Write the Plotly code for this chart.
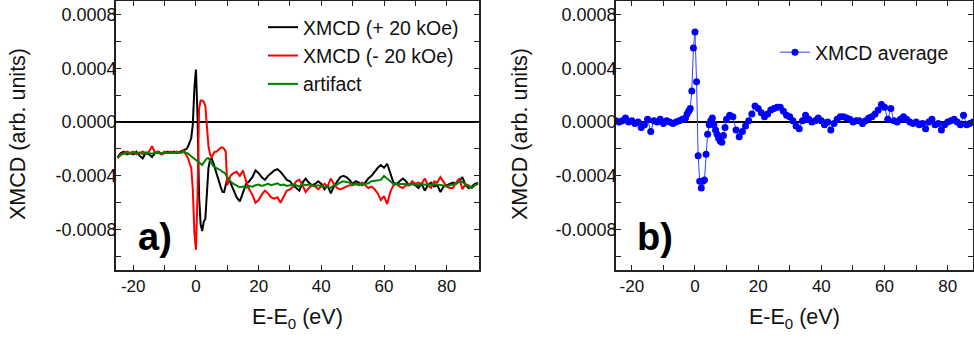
import plotly.graph_objects as go

# Energy grid relative to the edge (eV): coarse pre-edge, fine across the edge, 1 eV above it
energy = [
    -25, -24, -23, -22, -21, -20, -19, -18, -17, -16, -15, -14, -13, -12, -11,
    -10, -9, -8, -7, -6, -5, -4,
    -3.5, -3, -2.5, -2, -1.5, -1, -0.5, 0, 0.5, 1, 1.5, 2, 2.5, 3, 3.5, 4, 4.5,
    5, 5.5, 6, 6.5, 7, 7.5, 8, 8.5, 9, 9.5, 10,
    11, 12, 13, 14, 15, 16, 17, 18, 19, 20, 21, 22, 23, 24, 25, 26, 27, 28, 29, 30,
    31, 32, 33, 34, 35, 36, 37, 38, 39, 40, 41, 42, 43, 44, 45, 46, 47, 48, 49, 50,
    51, 52, 53, 54, 55, 56, 57, 58, 59, 60, 61, 62, 63, 64, 65, 66, 67, 68, 69, 70,
    71, 72, 73, 74, 75, 76, 77, 78, 79, 80, 81, 82, 83, 84, 85, 86, 87, 88, 89, 90,
]

# XMCD measured at +20 kOe
xmcd_plus = [
    -0.00026, -0.00023, -0.00022, -0.00024, -0.00023, -0.00024, -0.00022, -0.00025,
    -0.00027, -0.00023, -0.00024, -0.00026, -0.00023, -0.00022, -0.00024, -0.00023,
    -0.00022, -0.00023, -0.00022, -0.00023, -0.00022, -0.00021,
    -0.00021, -0.00020, -0.00018, -0.00015, -0.00012, -0.00002, 0.00025, 0.00039,
    0.00005, -0.00055, -0.00076, -0.00081, -0.00074, -0.00072, -0.00050, -0.00034,
    -0.00028, -0.00027, -0.00030, -0.00034, -0.00037, -0.00041, -0.00045, -0.00049,
    -0.00052, -0.00052, -0.00047, -0.00042,
    -0.00045, -0.00050, -0.00056, -0.00059, -0.00052, -0.00046, -0.00044, -0.00041,
    -0.00036, -0.00038, -0.00041, -0.00043, -0.00040, -0.00038, -0.00036, -0.00035,
    -0.00037, -0.00040, -0.00043, -0.00044, -0.00047, -0.00049, -0.00051, -0.00045,
    -0.00042, -0.00045, -0.00047, -0.00046, -0.00044, -0.00046, -0.00050, -0.00047,
    -0.00053, -0.00048, -0.00044, -0.00041, -0.00040, -0.00041, -0.00043, -0.00046,
    -0.00044, -0.00045, -0.00047, -0.00045, -0.00042, -0.00040, -0.00037, -0.00034,
    -0.00032, -0.00034, -0.00031, -0.00038, -0.00045, -0.00046, -0.00044, -0.00042,
    -0.00044, -0.00047, -0.00046, -0.00047, -0.00049, -0.00046, -0.00051, -0.00047,
    -0.00045, -0.00048, -0.00047, -0.00052, -0.00048, -0.00047, -0.00046, -0.00045,
    -0.00046, -0.00044, -0.00041, -0.00047, -0.00049, -0.00048, -0.00046, -0.00045,
]

# XMCD measured at -20 kOe
xmcd_minus = [
    -0.00027, -0.00024, -0.00023, -0.00022, -0.00023, -0.00022, -0.00024, -0.00023,
    -0.00022, -0.00023, -0.00022, -0.00018, -0.00023, -0.00022, -0.00024, -0.00022,
    -0.00023, -0.00022, -0.00023, -0.00022, -0.00023, -0.00021,
    -0.00023, -0.00024, -0.00027, -0.00031, -0.00034, -0.00050, -0.00082, -0.00095,
    -0.00055, 0.00010, 0.00016, 0.00016, 0.00015, 0.00012, -0.00002, -0.00018,
    -0.00024, -0.00026, -0.00024, -0.00022, -0.00022, -0.00021, -0.00020, -0.00019,
    -0.00019, -0.00020, -0.00022, -0.00047,
    -0.00040, -0.00038, -0.00037, -0.00040, -0.00036, -0.00044, -0.00050, -0.00054,
    -0.00060, -0.00058, -0.00054, -0.00051, -0.00053, -0.00056, -0.00057, -0.00056,
    -0.00060, -0.00055, -0.00051, -0.00050, -0.00048, -0.00044, -0.00043, -0.00047,
    -0.00052, -0.00049, -0.00047, -0.00048, -0.00050, -0.00048, -0.00046, -0.00048,
    -0.00042, -0.00046, -0.00049, -0.00050, -0.00049, -0.00048, -0.00047, -0.00047,
    -0.00046, -0.00047, -0.00045, -0.00047, -0.00049, -0.00048, -0.00050, -0.00053,
    -0.00058, -0.00055, -0.00061, -0.00052, -0.00047, -0.00046, -0.00048, -0.00049,
    -0.00047, -0.00047, -0.00044, -0.00046, -0.00045, -0.00046, -0.00042, -0.00047,
    -0.00049, -0.00044, -0.00045, -0.00041, -0.00045, -0.00048, -0.00049, -0.00049,
    -0.00045, -0.00042, -0.00050, -0.00046, -0.00047, -0.00049, -0.00047, -0.00046,
]

# Field-independent artifact
artifact = [
    -0.000265, -0.000245, -0.000235, -0.000230, -0.000235, -0.000228, -0.000232,
    -0.000226, -0.000238, -0.000230, -0.000232, -0.000236, -0.000228, -0.000232,
    -0.000230, -0.000226, -0.000232, -0.000228, -0.000230, -0.000225, -0.000228,
    -0.000222,
    -0.000225, -0.000228, -0.000235, -0.000245, -0.000255, -0.000265, -0.000275,
    -0.000285, -0.000295, -0.000305, -0.000315, -0.000320, -0.000300, -0.000285,
    -0.000270, -0.000268, -0.000290, -0.000310, -0.000325, -0.000335, -0.000340,
    -0.000345, -0.000350, -0.000360, -0.000370, -0.000375, -0.000390, -0.000410,
    -0.000440, -0.000460, -0.000470, -0.000485, -0.000480, -0.000490, -0.000475,
    -0.000480, -0.000470, -0.000465, -0.000475, -0.000470, -0.000460, -0.000470,
    -0.000465, -0.000455, -0.000470, -0.000465, -0.000475, -0.000470, -0.000465,
    -0.000470, -0.000480, -0.000460, -0.000470, -0.000465, -0.000470, -0.000475,
    -0.000470, -0.000480, -0.000485, -0.000480, -0.000490, -0.000470, -0.000465,
    -0.000450, -0.000440, -0.000445, -0.000450, -0.000465, -0.000460, -0.000460,
    -0.000465, -0.000460, -0.000455, -0.000440, -0.000435, -0.000430, -0.000430,
    -0.000400, -0.000420, -0.000445, -0.000460, -0.000460, -0.000460, -0.000455,
    -0.000460, -0.000465, -0.000460, -0.000465, -0.000470, -0.000460, -0.000465,
    -0.000470, -0.000465, -0.000460, -0.000465, -0.000470, -0.000470, -0.000475,
    -0.000470, -0.000465, -0.000460, -0.000440, -0.000445, -0.000465, -0.000480,
    -0.000490, -0.000470, -0.000455,
]

# Averaged XMCD signal
xmcd_average = [
    0.00001, 0.00000, 0.00001, 0.00003, 0.00000, 0.00001, -0.00001, 0.00000,
    -0.00004, -0.00002, 0.00002, -0.00007, 0.00001, 0.00000, 0.00002, -0.00001,
    0.00001, 0.00000, -0.00001, 0.00000, 0.00001, 0.00002,
    0.00002, 0.00003, 0.00006, 0.00008, 0.00010, 0.00023, 0.00055, 0.00067,
    0.00030, -0.00025, -0.00044, -0.00049, -0.00044, -0.00043, -0.00024, -0.00009,
    -0.00002, 0.00001, 0.00003, -0.00002, -0.00006, -0.00009, -0.00012, -0.00014,
    -0.00015, -0.00010, -0.00004, 0.00002,
    0.00005, 0.00004, -0.00006, -0.00011, -0.00007, -0.00003, 0.00001, 0.00006,
    0.00012, 0.00010, 0.00007, 0.00004, 0.00006, 0.00009, 0.00010, 0.00011,
    0.00011, 0.00008, 0.00005, 0.00004, 0.00001, -0.00003, -0.00005, 0.00001,
    0.00005, 0.00002, 0.00000, 0.00001, 0.00003, 0.00001, -0.00002, 0.00000,
    -0.00006, -0.00001, 0.00002, 0.00004, 0.00004, 0.00003, 0.00002, 0.00000,
    0.00001, 0.00001, -0.00001, 0.00001, 0.00003, 0.00004, 0.00006, 0.00009,
    0.00013, 0.00011, 0.00002, 0.00010, 0.00001, 0.00000, 0.00002, 0.00004,
    0.00002, 0.00000, -0.00001, 0.00000, -0.00002, -0.00001, -0.00005, 0.00000,
    0.00002, -0.00002, -0.00001, -0.00006, -0.00002, 0.00000, 0.00001, 0.00002,
    0.00000, -0.00002, 0.00005, -0.00002, -0.00001, 0.00000, 0.00001, 0.00000,
]

# Axis ticks
y_ticks = [0.0008, 0.0004, 0.0, -0.0004, -0.0008]
y_tick_labels = ["0.0008", "0.0004", "0.0000", "-0.0004", "-0.0008"]
y_minor = [0.0006, 0.0002, -0.0002, -0.0006, -0.0010]
x_ticks = [-20, 0, 20, 40, 60, 80]
x_tick_labels = ["-20", "0", "20", "40", "60", "80"]
x_minor = [-10, 10, 30, 50, 70, 90]

FONT = "Liberation Sans, Arial, Helvetica, sans-serif"
W, H = 974, 338

fig = go.Figure()

fig.add_trace(go.Scatter(x=energy, y=xmcd_plus, mode="lines", name="XMCD (+ 20 kOe)",
                         line=dict(color="#000000", width=2), legend="legend",
                         xaxis="x", yaxis="y"))
fig.add_trace(go.Scatter(x=energy, y=xmcd_minus, mode="lines", name="XMCD (- 20 kOe)",
                         line=dict(color="#ff0000", width=2), legend="legend",
                         xaxis="x", yaxis="y"))
fig.add_trace(go.Scatter(x=energy, y=artifact, mode="lines", name="artifact",
                         line=dict(color="#008000", width=2), legend="legend",
                         xaxis="x", yaxis="y"))
fig.add_trace(go.Scatter(x=energy, y=xmcd_average, mode="lines+markers", name="XMCD average",
                         line=dict(color="#3344ff", width=1),
                         marker=dict(color="#0000ff", size=7),
                         legend="legend2", xaxis="x2", yaxis="y2"))


def x_axis(domain, rng, anchor):
    return dict(domain=domain, range=rng, anchor=anchor,
                tickvals=x_ticks, ticktext=x_tick_labels,
                ticks="inside", ticklen=5, tickwidth=1, tickcolor="#222",
                minor=dict(tickvals=x_minor, ticks="inside", ticklen=5,
                           tickwidth=1, tickcolor="#222"),
                showline=True, linecolor="#222", linewidth=1.5, mirror="allticks",
                showgrid=False, zeroline=False,
                tickfont=dict(family=FONT, size=17, color="#111"))


def y_axis(domain, anchor):
    return dict(domain=domain, range=[-0.0011, 0.0009], anchor=anchor,
                tickvals=y_ticks, ticktext=y_tick_labels,
                ticks="inside", ticklen=5, tickwidth=1, tickcolor="#222",
                minor=dict(tickvals=y_minor, ticks="inside", ticklen=5,
                           tickwidth=1, tickcolor="#222"),
                showline=True, linecolor="#222", linewidth=1.5, mirror="allticks",
                showgrid=False, zeroline=True, zerolinecolor="#000", zerolinewidth=1.5,
                ticklabelstandoff=-6,
                tickfont=dict(family=FONT, size=18, color="#111"))


y_dom = [1 - 270 / H, 1 - 1 / H]
fig.update_layout(
    width=W, height=H,
    margin=dict(l=0, r=0, t=0, b=0),
    paper_bgcolor="white", plot_bgcolor="white",
    font=dict(family=FONT, size=17, color="#111"),
    xaxis=x_axis([116 / W, 479 / W], [-25.5, 90.3], "y"),
    yaxis=y_axis(y_dom, "x"),
    xaxis2=x_axis([616 / W, 973 / W], [-25.0, 88.0], "y2"),
    yaxis2=y_axis(y_dom, "x2"),
    legend=dict(x=263 / W, y=1 - 8 / H, xanchor="left", yanchor="top",
                bgcolor="rgba(0,0,0,0)", font=dict(family=FONT, size=19.5, color="#111"),
                itemwidth=30),
    legend2=dict(x=775 / W, y=1 - 33 / H, xanchor="left", yanchor="top",
                 bgcolor="rgba(0,0,0,0)", font=dict(family=FONT, size=19.5, color="#111"),
                 itemwidth=30),
    showlegend=True,
)

annotations = []
for cx, ylab_x, tag, tag_x in [(297.5, 18, "a)", 155), (794.5, 520, "b)", 655)]:
    annotations.append(dict(text="E-E<sub>0</sub> (eV)", x=cx / W, y=1 - 318 / H,
                            xref="paper", yref="paper", xanchor="center", yanchor="middle",
                            showarrow=False, font=dict(family=FONT, size=21.5, color="#111")))
    annotations.append(dict(text="XMCD (arb. units)", x=ylab_x / W, y=1 - 134 / H,
                            xref="paper", yref="paper", xanchor="center", yanchor="middle",
                            textangle=-90, showarrow=False,
                            font=dict(family=FONT, size=21.5, color="#111")))
    annotations.append(dict(text="<b>%s</b>" % tag, x=tag_x / W, y=1 - 237 / H,
                            xref="paper", yref="paper", xanchor="center", yanchor="middle",
                            showarrow=False, font=dict(family=FONT, size=38, color="#000")))
fig.update_layout(annotations=annotations)

fig.write_html("out.html")
